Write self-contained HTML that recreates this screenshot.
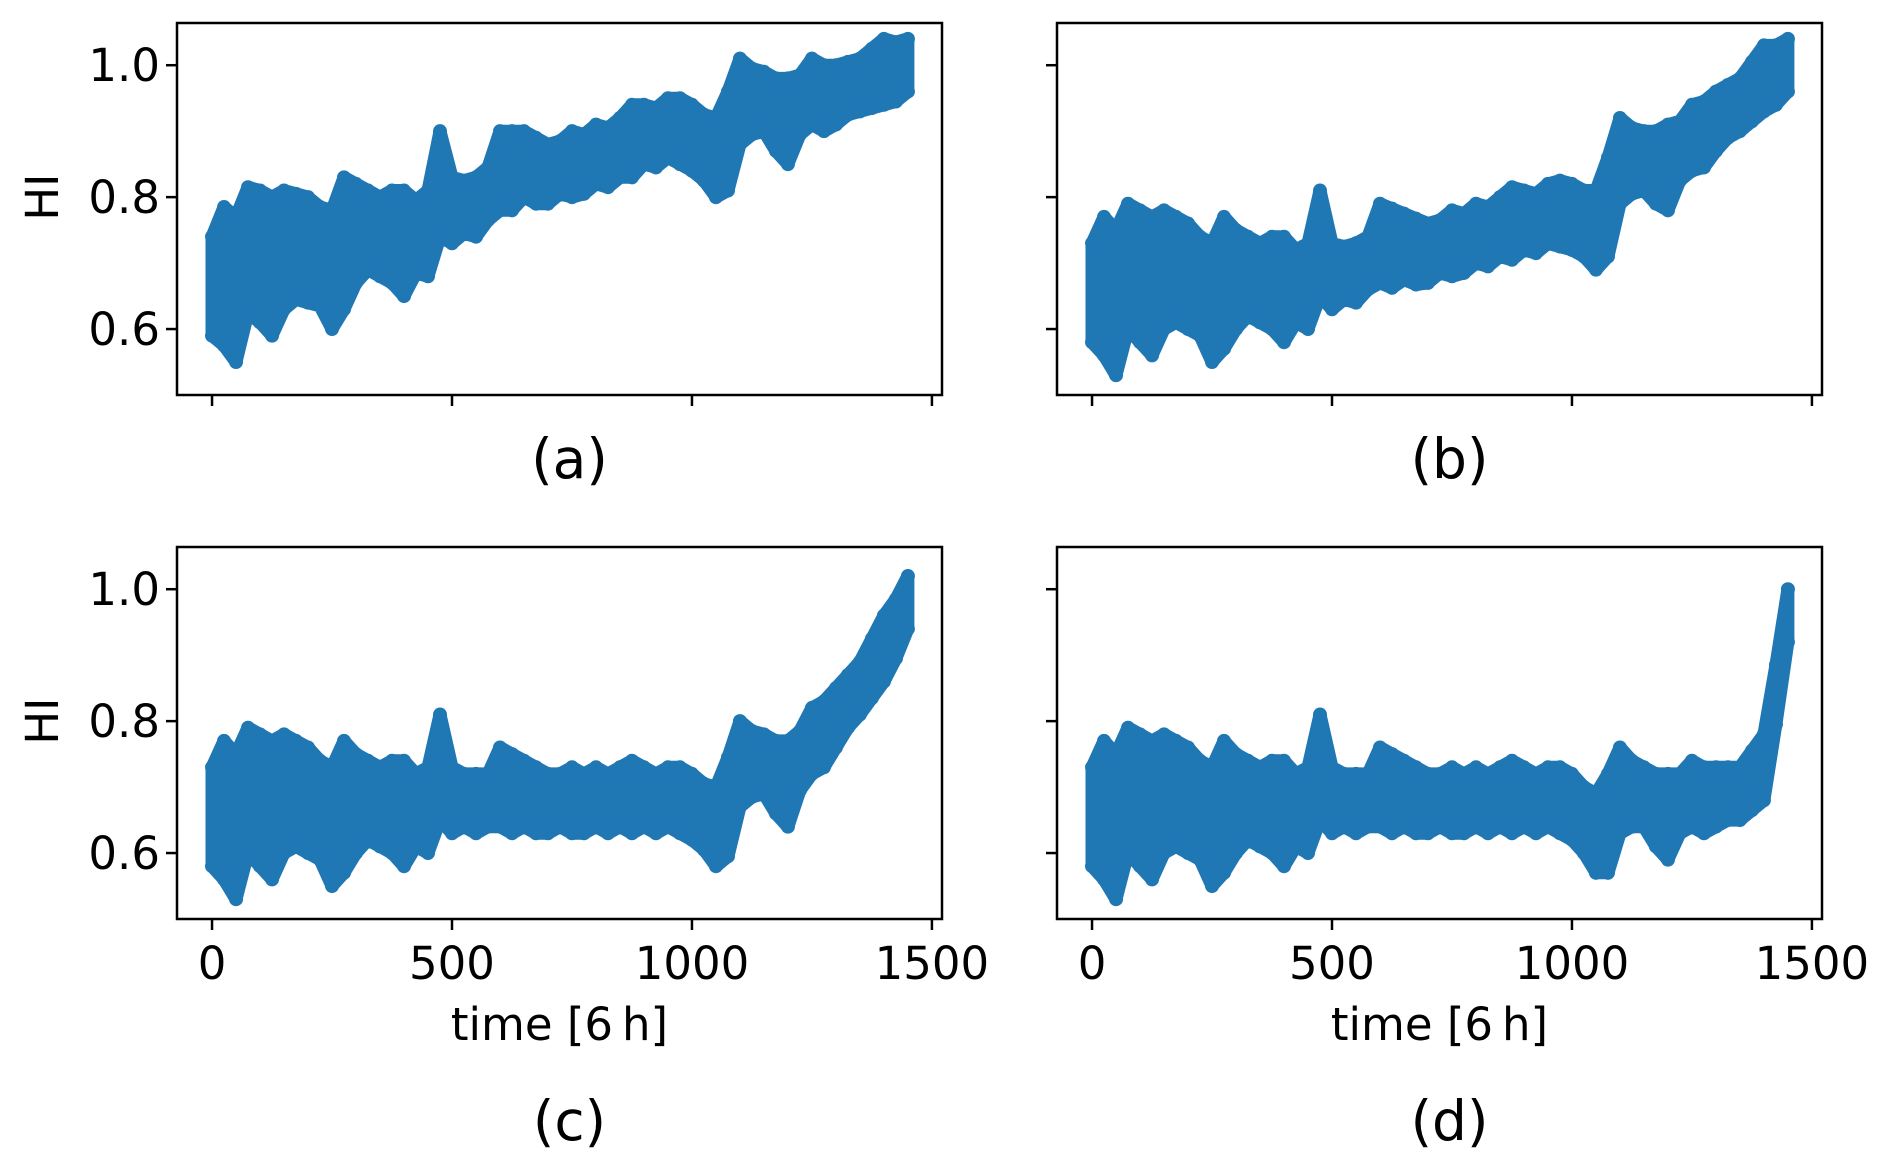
<!DOCTYPE html>
<html><head><meta charset="utf-8"><style>
html,body{margin:0;padding:0;background:#fff;}
svg{display:block;font-family:"DejaVu Sans","Liberation Sans",sans-serif;}
</style></head><body>
<svg id="fig" width="1892" height="1173" viewBox="0 0 1892 1173" xmlns="http://www.w3.org/2000/svg"></svg>
<script>
// Base noise envelope (time bins every 25 units, 0..1450)
const binTimes = [0,25,50,75,100,125,150,175,200,225,250,275,300,325,350,375,400,425,450,475,500,525,550,575,600,625,650,675,700,725,750,775,800,825,850,875,900,925,950,975,1000,1025,1050,1075,1100,1125,1150,1175,1200,1225,1250,1275,1300,1325,1350,1375,1400,1425,1450];
const baseLo = [.58,.56,.53,.60,.58,.56,.60,.61,.60,.59,.55,.57,.60,.62,.61,.60,.58,.61,.60,.65,.63,.64,.63,.64,.64,.63,.64,.63,.63,.64,.63,.63,.64,.63,.64,.63,.64,.63,.64,.63,.62,.60,.57,.57,.63,.64,.64,.61,.59,.63,.64,.63,.64,.65,.65,.65,.65,.65,.66];
const baseHi = [.73,.77,.75,.79,.78,.77,.78,.77,.76,.74,.73,.77,.75,.74,.73,.74,.74,.72,.73,.81,.73,.72,.72,.72,.76,.75,.74,.73,.72,.72,.73,.72,.73,.72,.73,.74,.73,.72,.73,.73,.72,.70,.69,.72,.76,.74,.73,.72,.72,.72,.74,.73,.73,.73,.73,.74,.75,.74,.74];
// Trend per panel (every 50 units, 0..1450)
const trendTimes = [0,50,100,150,200,250,300,350,400,450,500,550,600,650,700,750,800,850,900,950,1000,1050,1100,1150,1200,1250,1300,1350,1400,1450];
const trendA = [.01,.02,.03,.03,.04,.05,.07,.07,.07,.08,.10,.11,.14,.16,.16,.17,.18,.19,.21,.22,.22,.23,.25,.26,.26,.27,.27,.28,.29,.30];
const trendB = [0,0,0,0,0,0,0,0,0,0,0,.01,.03,.035,.04,.05,.06,.07,.08,.09,.10,.12,.16,.17,.19,.20,.23,.25,.28,.30];
const trendC = [0,0,0,0,0,0,0,0,0,0,0,0,0,0,0,0,0,0,0,0,0,.01,.04,.05,.05,.08,.12,.16,.21,.28];
const trendD = [0,0,0,0,0,0,0,0,0,0,0,0,0,0,0,0,0,0,0,0,0,0,0,0,0,0,0,0,.03,.26];
const xTicks = [0,500,1000,1500];
const yTicks = [0.6,0.8,1.0];
const yTickLabels = ["0.6","0.8","1.0"];
const panelLetters = ["(a)","(b)","(c)","(d)"];

const NS="http://www.w3.org/2000/svg";
const svg=document.getElementById('fig');
function mk(tag,attrs,parent){const e=document.createElementNS(NS,tag);for(const k in attrs)e.setAttribute(k,attrs[k]);(parent||svg).appendChild(e);return e;}
function interp(t,ts,vs){if(t<=ts[0])return vs[0];for(let i=1;i<ts.length;i++){if(t<=ts[i]){const f=(t-ts[i-1])/(ts[i]-ts[i-1]);return vs[i-1]+f*(vs[i]-vs[i-1]);}}return vs[vs.length-1];}

const panels=[
 {x:177,y:23,trend:trendA,bottom:false,ylab:true,name:'panel-a'},
 {x:1057,y:23,trend:trendB,bottom:false,ylab:false,name:'panel-b'},
 {x:177,y:547,trend:trendC,bottom:true,ylab:true,name:'panel-c'},
 {x:1057,y:547,trend:trendD,bottom:true,ylab:false,name:'panel-d'}];
const W=765,H=372,XMIN=-73,XMAX=1521,YMIN=0.500,YMAX=1.064;

panels.forEach((p,pi)=>{
  const g=mk('g',{});
  
  
  const sx=v=>p.x+(v-XMIN)/(XMAX-XMIN)*W;
  const sy=v=>p.y+H-(v-YMIN)/(YMAX-YMIN)*H;
  const marks=mk('g',{},g);
  
  
  const top=[],bot=[];
  binTimes.forEach((t,i)=>{
    const tr=interp(t,trendTimes,p.trend);
    top.push(sx(t).toFixed(1)+','+sy(baseHi[i]+tr).toFixed(1));
    bot.unshift(sx(t).toFixed(1)+','+sy(baseLo[i]+tr).toFixed(1));
  });
  const band=mk('path',{d:'M'+top.join(' L')+' L'+bot.join(' L')+' Z',fill:'#1f77b4',stroke:'#1f77b4','stroke-width':13,'stroke-linejoin':'round'},marks);
  
  
  binTimes.forEach((t,i)=>{
    const tr=interp(t,trendTimes,p.trend);
    [baseLo[i]+tr,baseHi[i]+tr].forEach(v=>{
      const c=mk('circle',{cx:sx(t),cy:sy(v),r:7,fill:'#1f77b4'},marks);
      
      
    });
  });
  const frame=mk('rect',{x:p.x,y:p.y,width:W,height:H,fill:'none',stroke:'#000','stroke-width':2.5},g);
  
  
  xTicks.forEach(v=>{
    const tk=mk('line',{x1:sx(v),x2:sx(v),y1:p.y+H,y2:p.y+H+11,stroke:'#000','stroke-width':2.5},g);
    
    
    if(p.bottom){
      const tl=mk('text',{x:sx(v),y:979,'text-anchor':'middle','font-size':45},g);
      tl.textContent=String(v);
      
      
    }
  });
  yTicks.forEach((v,i)=>{
    const tk=mk('line',{x1:p.x-11,x2:p.x,y1:sy(v),y2:sy(v),stroke:'#000','stroke-width':2.5},g);
    
    
    if(p.ylab){
      const tl=mk('text',{x:p.x-17,y:sy(v)+16,'text-anchor':'end','font-size':45},g);
      tl.textContent=yTickLabels[i];
      
      
    }
  });
  if(p.ylab){
    const cy=sy(0.8);
    const yl=mk('text',{x:0,y:0,'text-anchor':'middle','font-size':45,transform:`translate(58,${cy}) rotate(-90)`},g);
    yl.textContent='HI';
    
    
  }
  if(p.bottom){
    const xl=mk('text',{x:p.x+W/2,y:1040,'text-anchor':'middle','font-size':45},g);
    xl.textContent='time [6\u2009h]';
    
    
  }
  const cap=mk('text',{x:p.x+W/2+10,y:p.bottom?1140:478,'text-anchor':'middle','font-size':55},g);
  cap.textContent=panelLetters[pi];
  
  
});
</script>
</body></html>
